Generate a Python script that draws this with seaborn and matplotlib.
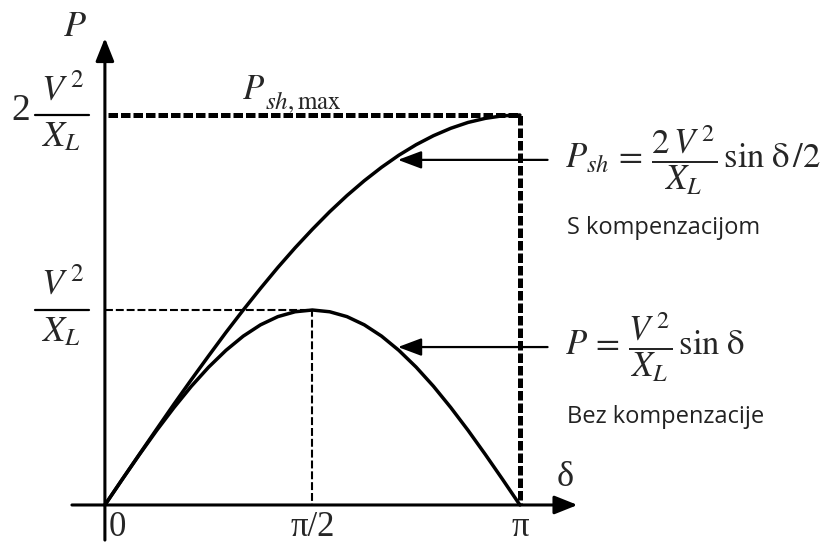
import numpy as np
import pandas as pd
import seaborn as sns
import matplotlib.pyplot as plt

# power angle in degrees, power in units of V^2/X_L
delta_deg = [0, 7.5, 15, 22.5, 30, 37.5, 45, 52.5, 60, 67.5, 75, 82.5, 90,
             97.5, 105, 112.5, 120, 127.5, 135, 142.5, 150, 157.5, 165, 172.5, 180]
p_plain = [0, 0.131, 0.259, 0.383, 0.5, 0.609, 0.707, 0.793, 0.866, 0.924, 0.966, 0.991, 1.0,
           0.991, 0.966, 0.924, 0.866, 0.793, 0.707, 0.609, 0.5, 0.383, 0.259, 0.131, 0]
p_shunt = [0, 0.131, 0.261, 0.390, 0.518, 0.643, 0.765, 0.885, 1.0, 1.111, 1.218, 1.319, 1.414,
           1.504, 1.587, 1.663, 1.732, 1.794, 1.848, 1.894, 1.932, 1.962, 1.983, 1.996, 2.0]

x_ticks = [0, 90, 180]
x_tick_labels = ['0', 'π/2', 'π']

df = pd.DataFrame({'delta': delta_deg, 'P': p_plain, 'Psh': p_shunt})

sns.set_style('white')
plt.rcParams['font.family'] = ['Liberation Serif', 'DejaVu Serif']
plt.rcParams['mathtext.fontset'] = 'stix'

fig = plt.figure(figsize=(8.27, 5.43), dpi=100)
ax = fig.add_axes([0, 0, 1, 1])
ax.set_xlim(-45.5, 313.2)
ax.set_ylim(-0.195, 2.59)
ax.axis('off')

# curves
sns.lineplot(data=df, x='delta', y='Psh', color='black', lw=2.5, ax=ax, sort=False)
sns.lineplot(data=df, x='delta', y='P', color='black', lw=2.5, ax=ax, sort=False)

# reference lines
p_max = max(p_plain)
psh_max = max(p_shunt)
d_max = delta_deg[p_plain.index(p_max)]
d_end = delta_deg[-1]
ax.plot([1.5, d_end, d_end], [psh_max, psh_max, 0], color='black', lw=3.6,
        dashes=(1.9, 0.6), solid_capstyle='butt')
ax.plot([0, d_max, d_max], [p_max, p_max, 0], color='black', lw=1.5, dashes=(3.8, 1.4))

# axes with arrow heads
head = '-|>,head_length=0.7,head_width=0.28'
ax.annotate('', xy=(0, 2.395), xytext=(0, -0.18),
            arrowprops=dict(arrowstyle=head, mutation_scale=20, lw=2.2, color='black',
                            shrinkA=0, shrinkB=0))
ax.annotate('', xy=(205, 0), xytext=(-14.3, 0),
            arrowprops=dict(arrowstyle=head, mutation_scale=20, lw=2.2, color='black',
                            shrinkA=0, shrinkB=0))

# tick labels
for t, lab in zip(x_ticks, x_tick_labels):
    ax.text(t + (5.5 if t == 0 else 0), -0.03, lab, ha='center', va='top', fontsize=25)
ax.text(-13, 2.45, '$P$', ha='center', va='center', fontsize=26)
ax.text(199.5, 0.14, 'δ', ha='center', va='center', fontsize=26)

# y labels drawn as fractions
for level, pre in [(psh_max, '2'), (p_max, '')]:
    ax.plot([-30.4, -7.0], [level, level], color='black', lw=1.6)
    ax.text(-18.6, level + 0.04, r'$V^{\,2}$', ha='center', va='bottom', fontsize=26)
    ax.text(-19.0, level - 0.03, r'$X_L$', ha='center', va='top', fontsize=26)
    if pre:
        ax.text(-36.5, level + 0.02, pre, ha='center', va='center', fontsize=27)

ax.text(59.4, 2.08, '$P$', ha='left', va='baseline', fontsize=25)
ax.text(69.5, 2.03, r'$sh,\mathrm{max}$', ha='left', va='baseline', fontsize=18)

# pointers to curves
ptr = '-|>,head_length=0.8,head_width=0.3'
ax.annotate('', xy=(127.1, 1.77), xytext=(192, 1.77),
            arrowprops=dict(arrowstyle=ptr, mutation_scale=18, lw=1.6, color='black',
                            shrinkA=0, shrinkB=0))
ax.annotate('', xy=(127.1, 0.81), xytext=(192, 0.81),
            arrowprops=dict(arrowstyle=ptr, mutation_scale=18, lw=1.6, color='black',
                            shrinkA=0, shrinkB=0))

# equations and notes
ax.text(199.5, 1.77, r'$P_{sh}\,{=}\,\dfrac{2\,V^{\,2}}{X_L}\,\mathrm{sin}\;\mathrm{\delta}\,/2$',
        ha='left', va='center', fontsize=25)
ax.text(200.5, 1.42, 'S kompenzacijom', ha='left', va='center', fontsize=17,
        family=['Open Sans', 'DejaVu Sans'], color='#222222')
ax.text(199.5, 0.81, r'$P\,{=}\,\dfrac{V^{\,2}}{X_L}\,\mathrm{sin}\;\mathrm{\delta}$',
        ha='left', va='center', fontsize=25)
ax.text(200.5, 0.45, 'Bez kompenzacije', ha='left', va='center', fontsize=17,
        family=['Open Sans', 'DejaVu Sans'], color='#222222')

fig.savefig('out.png', dpi=100)
